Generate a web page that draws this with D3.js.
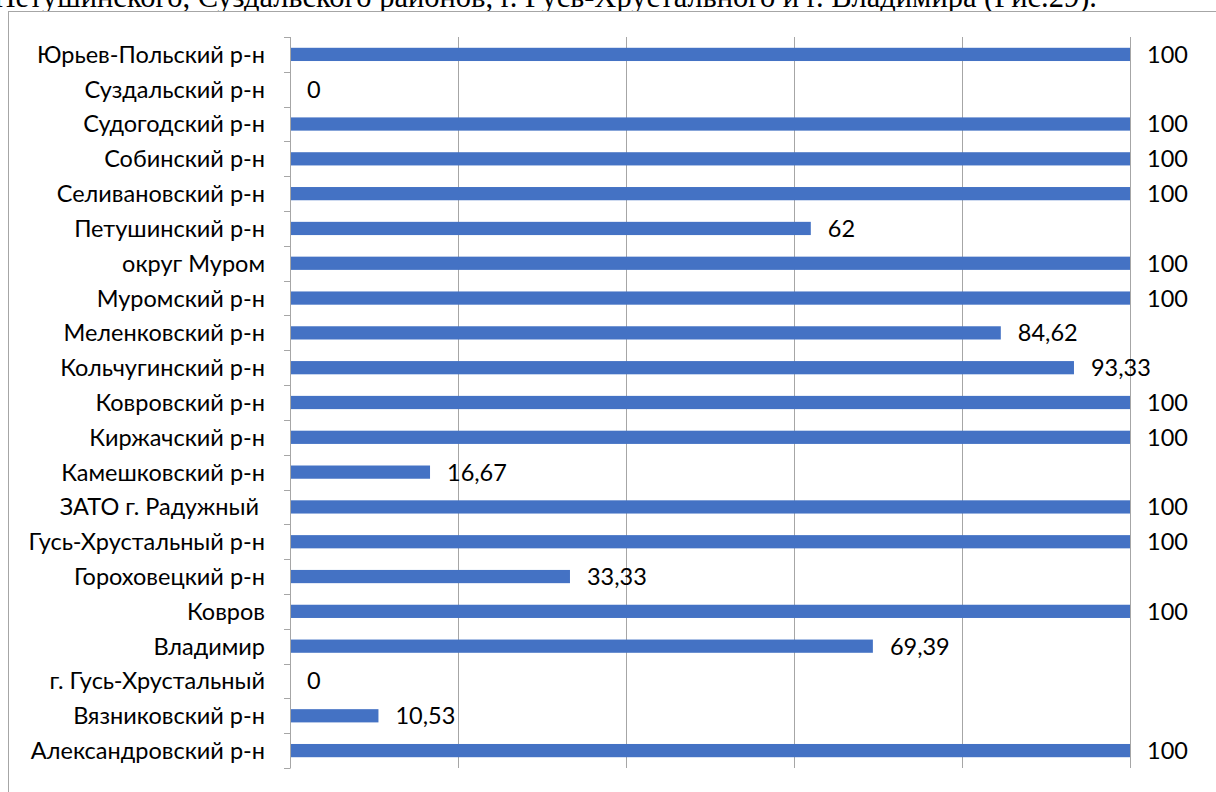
<!DOCTYPE html>
<html>
<head>
<meta charset="utf-8">
<script src="https://cdn.jsdelivr.net/npm/d3@7"></script>
<style>
  html, body { margin: 0; padding: 0; background: #fff; }
  svg { display: block; }
</style>
</head>
<body>
<svg id="chart" width="1216" height="792"></svg>
<script>
const categories = [
  "Юрьев-Польский р-н",
  "Суздальский р-н",
  "Судогодский р-н",
  "Собинский р-н",
  "Селивановский р-н",
  "Петушинский р-н",
  "округ Муром",
  "Муромский р-н",
  "Меленковский р-н",
  "Кольчугинский р-н",
  "Ковровский р-н",
  "Киржачский р-н",
  "Камешковский р-н",
  "ЗАТО г. Радужный ",
  "Гусь-Хрустальный р-н",
  "Гороховецкий р-н",
  "Ковров",
  "Владимир",
  "г. Гусь-Хрустальный",
  "Вязниковский р-н",
  "Александровский р-н"
];
const values = [100, 0, 100, 100, 100, 62, 100, 100, 84.62, 93.33, 100, 100, 16.67, 100, 100, 33.33, 100, 69.39, 0, 10.53, 100];
const valueLabels = ["100", "0", "100", "100", "100", "62", "100", "100", "84,62", "93,33", "100", "100", "16,67", "100", "100", "33,33", "100", "69,39", "0", "10,53", "100"];
const xTicks = [0, 20, 40, 60, 80, 100];
const headerText = "Петушинского, Суздальского районов, г. Гусь-Хрустального и г. Владимира (Рис.29).";

const svg = d3.select("#chart");
const plotLeft = 290, plotRight = 1130, plotTop = 37, plotBottom = 768;
const labelFont = "Lato, 'Open Sans', sans-serif";
const labelSize = 23.5;

// cut-off document text above the chart
svg.append("text")
  .attr("x", 1097).attr("y", 7)
  .attr("text-anchor", "end")
  .attr("font-family", "'Liberation Serif', 'Times New Roman', serif")
  .attr("font-size", 30.5)
  .attr("fill", "#000")
  .text(headerText);

// chart frame
svg.append("rect")
  .attr("x", 8.5).attr("y", 11.5)
  .attr("width", 1230).attr("height", 800)
  .attr("fill", "#fff")
  .attr("stroke", "#a6a6a6").attr("stroke-width", 1);

const x = d3.scaleLinear().domain([0, 100]).range([plotLeft, plotRight]);
const y = d3.scaleBand().domain(categories).range([plotTop, plotBottom]).paddingInner(0.62).paddingOuter(0.31);
const yTicks = d3.scaleBand().domain(categories).range([plotTop, plotBottom]);

// gridlines
svg.append("g")
  .selectAll("line")
  .data(xTicks.slice(1))
  .join("line")
  .attr("x1", d => Math.round(x(d)) + 0.5).attr("x2", d => Math.round(x(d)) + 0.5)
  .attr("y1", plotTop).attr("y2", plotBottom)
  .attr("stroke", "#a6a6a6").attr("stroke-width", 1);

// bars
svg.append("g")
  .selectAll("rect")
  .data(values)
  .join("rect")
  .attr("x", x(0))
  .attr("y", (d, i) => y(categories[i]))
  .attr("width", d => x(d) - x(0))
  .attr("height", y.bandwidth())
  .attr("fill", "#4472C4");

// category axis (line + ticks at band boundaries)
const axisG = svg.append("g");
axisG.append("line")
  .attr("x1", plotLeft + 0.5).attr("x2", plotLeft + 0.5)
  .attr("y1", plotTop).attr("y2", plotBottom)
  .attr("stroke", "#a6a6a6");
const bounds = categories.map(c => yTicks(c)).concat([plotBottom]);
axisG.selectAll("line.tick")
  .data(bounds)
  .join("line")
  .attr("class", "tick")
  .attr("x1", plotLeft - 6).attr("x2", plotLeft + 0.5)
  .attr("y1", d => Math.round(d) + 0.5).attr("y2", d => Math.round(d) + 0.5)
  .attr("stroke", "#a6a6a6");

// category labels
svg.append("g")
  .selectAll("text")
  .data(categories)
  .join("text")
  .attr("x", 265)
  .attr("y", d => yTicks(d) + yTicks.bandwidth() / 2)
  .attr("dy", "0.36em")
  .attr("text-anchor", "end")
  .attr("font-family", labelFont)
  .attr("font-size", labelSize)
  .attr("fill", "#000")
  .style("white-space", "pre")
  .text(d => d);

// value labels
svg.append("g")
  .selectAll("text")
  .data(values)
  .join("text")
  .attr("x", d => x(d) + 17)
  .attr("y", (d, i) => yTicks(categories[i]) + yTicks.bandwidth() / 2)
  .attr("dy", "0.36em")
  .attr("font-family", labelFont)
  .attr("font-size", labelSize)
  .attr("fill", "#000")
  .text((d, i) => valueLabels[i]);
</script>
</body>
</html>
